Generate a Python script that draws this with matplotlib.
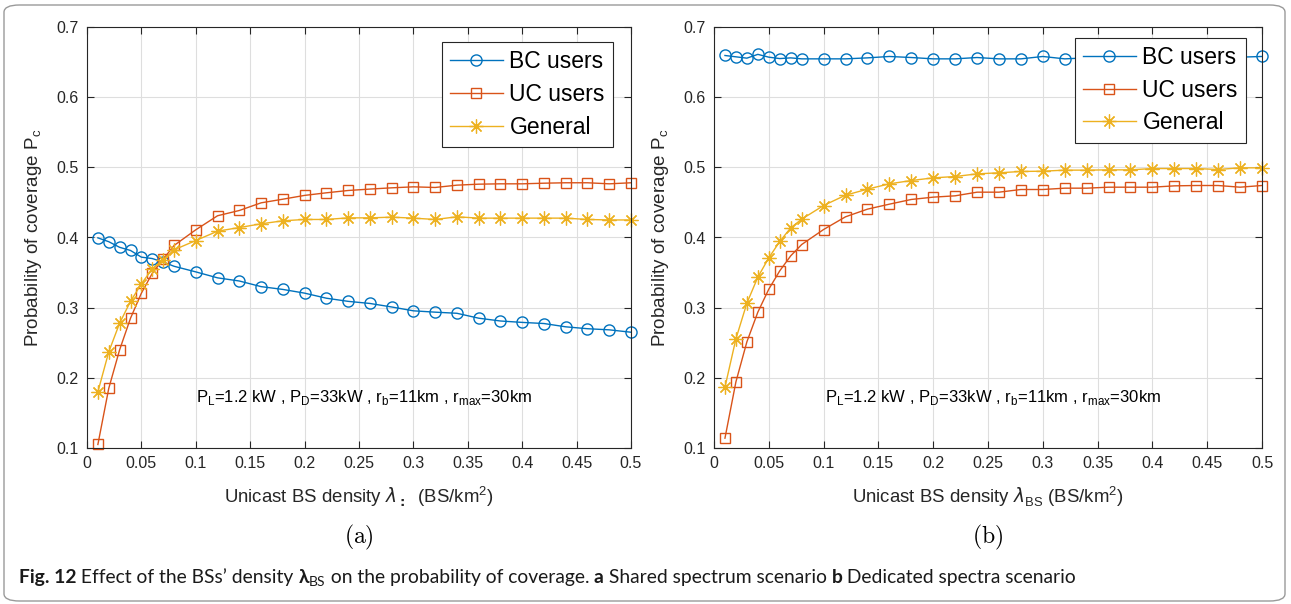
import matplotlib
matplotlib.use('Agg')
from matplotlib import pyplot as plt
from matplotlib.patches import FancyBboxPatch
import numpy as np

# unicast BS density (BS/km^2), same grid for both panels
density = [0.01, 0.02, 0.03, 0.04, 0.05, 0.06, 0.07, 0.08,
           0.10, 0.12, 0.14, 0.16, 0.18, 0.20, 0.22, 0.24, 0.26, 0.28, 0.30,
           0.32, 0.34, 0.36, 0.38, 0.40, 0.42, 0.44, 0.46, 0.48, 0.50]

# (a) shared spectrum
bc_a = [0.3995, 0.394, 0.386, 0.3815, 0.372, 0.370, 0.365, 0.359,
        0.351, 0.3425, 0.338, 0.330, 0.326, 0.3207, 0.3135, 0.309, 0.306, 0.301, 0.2955,
        0.2936, 0.292, 0.285, 0.281, 0.279, 0.2774, 0.2727, 0.270, 0.2684, 0.265]
uc_a = [0.105, 0.185, 0.240, 0.285, 0.3207, 0.349, 0.369, 0.3886,
        0.411, 0.431, 0.4385, 0.4494, 0.4546, 0.460, 0.4637, 0.467, 0.469, 0.4708, 0.4722,
        0.4713, 0.4746, 0.476, 0.4765, 0.4765, 0.4774, 0.478, 0.478, 0.4765, 0.478]
gen_a = [0.180, 0.237, 0.278, 0.309, 0.334, 0.3553, 0.3686, 0.3824,
         0.3957, 0.409, 0.4142, 0.4195, 0.4238, 0.4257, 0.4257, 0.428, 0.428, 0.429, 0.4276,
         0.4257, 0.4295, 0.4276, 0.4276, 0.4276, 0.4276, 0.4276, 0.4257, 0.425, 0.425]

# (b) dedicated spectra
bc_b = [0.6594, 0.6575, 0.6556, 0.661, 0.657, 0.655, 0.656, 0.6546,
        0.6546, 0.6546, 0.656, 0.658, 0.6565, 0.6546, 0.6546, 0.6565, 0.6546, 0.6546, 0.658,
        0.6546, 0.656, 0.6565, 0.656, 0.657, 0.656, 0.6565, 0.656, 0.657, 0.658]
uc_b = [0.114, 0.1943, 0.2513, 0.2936, 0.3264, 0.3525, 0.3739, 0.390,
        0.4114, 0.4295, 0.4404, 0.4475, 0.4542, 0.4575, 0.4594, 0.4646, 0.4646, 0.4684, 0.4684,
        0.4703, 0.4703, 0.4717, 0.4717, 0.4717, 0.4736, 0.4741, 0.4741, 0.4717, 0.4741]
gen_b = [0.1867, 0.2556, 0.3064, 0.3435, 0.371, 0.3943, 0.4138, 0.4261,
         0.4456, 0.4603, 0.4689, 0.4765, 0.4812, 0.485, 0.4869, 0.4907, 0.4922, 0.4941, 0.4945,
         0.496, 0.496, 0.4964, 0.4964, 0.4983, 0.4983, 0.4983, 0.4969, 0.4993, 0.4993]

x_ticks = [0, 0.05, 0.1, 0.15, 0.2, 0.25, 0.3, 0.35, 0.4, 0.45, 0.5]
x_ticklabels = ['0', '0.05', '0.1', '0.15', '0.2', '0.25', '0.3', '0.35', '0.4', '0.45', '0.5']
y_ticks = [0.1, 0.2, 0.3, 0.4, 0.5, 0.6, 0.7]
y_ticklabels = ['0.1', '0.2', '0.3', '0.4', '0.5', '0.6', '0.7']
series_names = ['BC users', 'UC users', 'General']

plt.rcParams['font.family'] = ['Liberation Sans', 'DejaVu Sans']
plt.rcParams['mathtext.fontset'] = 'dejavusans'

W, H = 1291, 604
fig = plt.figure(figsize=(W / 100, H / 100), dpi=100)

# page frame around the figure
fig.add_artist(FancyBboxPatch((4 / W, 3 / H), 1281 / W, 596 / H,
                              boxstyle='round,pad=0,rounding_size=0.012',
                              transform=fig.transFigure, fill=False,
                              edgecolor='#9a9a9a', linewidth=1.0))

ax1 = fig.add_axes([87 / W, 1 - 448 / H, 544 / W, 421 / H])
ax2 = fig.add_axes([714 / W, 1 - 448 / H, 548 / W, 421 / H])

blue, red, yellow = '#0072BD', '#D95319', '#EDB120'
dark = '#262626'
asterisk = (8, 2, 0)  # matlab style '*' (plus + cross)


def draw_panel(ax, bc, uc, gen, xlabel, legend_anchor):
    ax.plot(density, bc, '-', color=blue, lw=1.0, marker='o', ms=8, mfc='none',
            mew=1.0, label=series_names[0], clip_on=False)
    ax.plot(density, uc, '-', color=red, lw=1.0, marker='s', ms=7.5, mfc='none',
            mew=1.0, label=series_names[1], clip_on=False)
    ax.plot(density, gen, '-', color=yellow, lw=1.0, marker=asterisk, ms=10,
            mew=0.9, label=series_names[2], clip_on=False)

    ax.set_xlim(0, 0.5)
    ax.set_ylim(0.1, 0.7)
    ax.set_xticks(x_ticks)
    ax.set_xticklabels(x_ticklabels)
    ax.set_yticks(y_ticks)
    ax.set_yticklabels(y_ticklabels)
    ax.grid(True, color='#dedede', lw=0.8)
    ax.set_axisbelow(True)
    ax.tick_params(direction='in', length=5, width=0.8, colors=dark,
                   labelsize=11.5, top=True, right=True, pad=6)
    for s in ax.spines.values():
        s.set_color(dark)
        s.set_linewidth(0.8)

    ax.set_xlabel(xlabel, fontsize=13.4, color=dark, labelpad=9)
    ax.set_ylabel(r'Probability of coverage P$_{\mathregular{c}}$', fontsize=13.6,
                  color=dark, labelpad=9)

    leg = ax.legend(loc='upper right', bbox_to_anchor=legend_anchor, fontsize=16.5,
                    fancybox=False, framealpha=1, edgecolor=dark, handlelength=2.3,
                    labelspacing=0.42, borderpad=0.36, handletextpad=0.3,
                    borderaxespad=0)
    leg.get_frame().set_linewidth(0.8)

    ax.text(0.51, 0.121,
            r'P$_{\mathregular{L}}$=1.2 kW , P$_{\mathregular{D}}$=33kW , '
            r'r$_{\mathregular{b}}$=11km , r$_{\mathregular{max}}$=30km',
            transform=ax.transAxes, ha='center', va='center', fontsize=12, color='black')


draw_panel(ax1, bc_a, uc_a, gen_a,
           r'Unicast BS density $\lambda_{\mathbf{:}}$  (BS/km$^{\mathregular{2}}$)',
           (0.967, 0.964))
draw_panel(ax2, bc_b, uc_b, gen_b,
           r'Unicast BS density $\lambda_{\mathregular{BS}}$ (BS/km$^{\mathregular{2}}$)',
           (0.971, 0.974))

fig.text(359 / W, 1 - 537 / H, r'$\mathrm{(a)}$', math_fontfamily='cm',
         fontsize=17, ha='center', va='center')
fig.text(988 / W, 1 - 537 / H, r'$\mathrm{(b)}$', math_fontfamily='cm',
         fontsize=17, ha='center', va='center')

# caption, laid out piece by piece so bold parts sit inline
fs = 13.9
caption = [('Fig. 12', 'bold', fs, 0),
           (' Effect of the BSs\u2019 density ', 'normal', fs, 0),
           ('\u03bb', 'bold', fs, 0),
           ('BS', 'normal', fs * 0.72, -3),
           (' on the probability of coverage. ', 'normal', fs, 0),
           ('a', 'bold', fs, 0),
           (' Shared spectrum scenario ', 'normal', fs, 0),
           ('b', 'bold', fs, 0),
           (' Dedicated spectra scenario', 'normal', fs, 0)]
renderer = fig.canvas.get_renderer()
xpos = 19
base = H - 583
for txt, wt, sz, dy in caption:
    t = fig.text(xpos / W, (base + dy) / H, txt, fontweight=wt, fontsize=sz,
                 family=['Lato', 'DejaVu Sans'], va='baseline', ha='left', color='#1a1a1a')
    bb = t.get_window_extent(renderer)
    xpos = bb.x1

fig.savefig('out.png', dpi=100)
